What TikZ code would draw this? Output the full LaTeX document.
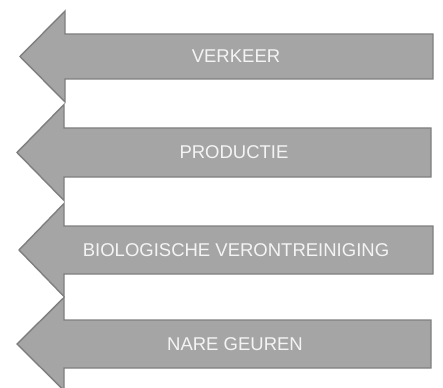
\documentclass[tikz,border=0pt]{standalone}
\usepackage{fontspec}
\setmainfont{Liberation Sans}
\definecolor{arrfill}{HTML}{A5A5A5}
\definecolor{arrline}{HTML}{7F7F7F}
\definecolor{arrtext}{HTML}{F4F4F4}
\tikzset{
  arrowbox/.style={fill=arrfill, draw=arrline, line width=1.4pt, line join=miter},
  arrowlabel/.style={text=arrtext, font=\fontsize{18.5}{22}\selectfont, inner sep=0pt, anchor=center}
}
% #1 tip x, #2 head x, #3 right x, #4 centre y, #5 body half height, #6 head half height
\newcommand{\leftarrowshape}[6]{%
  \draw[arrowbox] (#1,#4) -- (#2,#4-#6) -- (#2,#4-#5) -- (#3,#4-#5) -- (#3,#4+#5) -- (#2,#4+#5) -- (#2,#4+#6) -- cycle;
}
\begin{document}
\begin{tikzpicture}[x=1pt,y=-1pt]
\useasboundingbox (0,0) rectangle (443,387);
\clip (0,0) rectangle (443,387);
\leftarrowshape{20}{65}{433}{56.5}{22.5}{45.5}
\leftarrowshape{17}{64}{431}{152.5}{24.5}{48}
\leftarrowshape{19}{64}{433}{250}{24}{46.5}
\leftarrowshape{17}{64}{431}{344}{24}{46.5}
\node[arrowlabel] (verkeer) at (236,56.5) {VERKEER};
\node[arrowlabel] (productie) at (234,152.5) {PRODUCTIE};
\node[arrowlabel] (bio) at (236,250) {BIOLOGISCHE VERONTREINIGING};
\node[arrowlabel] (geuren) at (235,344) {NARE GEUREN};
\end{tikzpicture}
\end{document}
